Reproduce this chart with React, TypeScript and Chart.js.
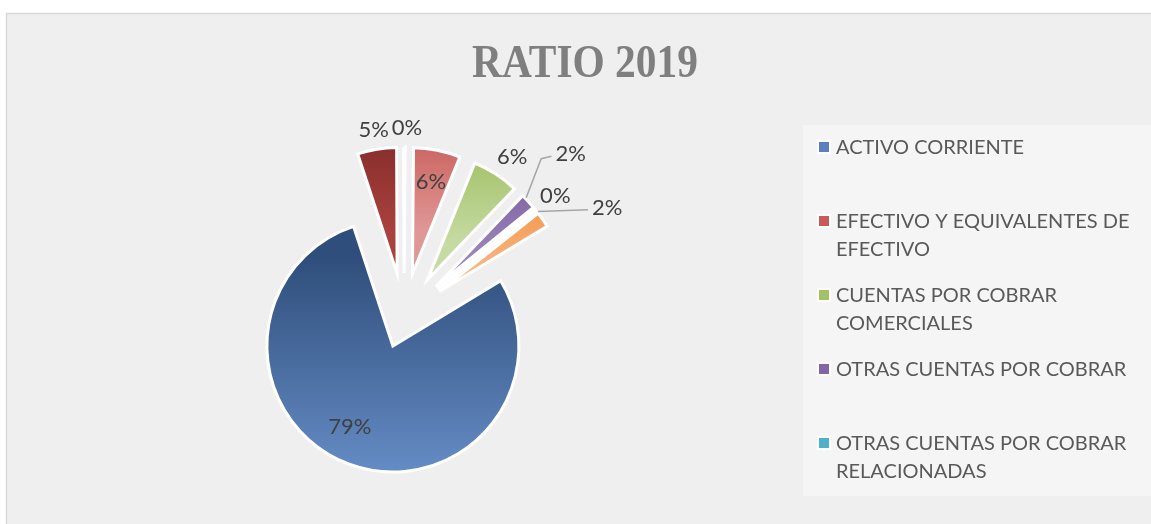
import React, { useEffect, useRef } from "react";
import { Chart, registerables } from "chart.js";

Chart.register(...registerables);

// ---------- data ----------
const chartTitle = "RATIO 2019";
// slices in drawing (clockwise) order
const categories = [
  "EFECTIVO Y EQUIVALENTES DE EFECTIVO",
  "CUENTAS POR COBRAR COMERCIALES",
  "OTRAS CUENTAS POR COBRAR",
  "OTRAS CUENTAS POR COBRAR RELACIONADAS",
  "SERVICIOS Y OTROS CONTRATADOS POR ANTICIPADO",
  "ACTIVO CORRIENTE",
  "OTROS ACTIVOS",
  "INVENTARIOS",
];
const values = [6.0, 6.0, 2.0, 0.2, 2.0, 78.6, 5.0, 0.2];
// legend shows these categories (indices into categories), in this order
const legendOrder = [5, 0, 1, 2, 3];

// ---------- styles ----------
const colorTop = ["#c24f4b", "#98b957", "#7a5c9e", "#4bacc6", "#f38f3f", "#2f4e7b", "#7a2624", "#1f497d"];
const colorBottom = ["#e09896", "#c6dba3", "#9c86ba", "#93cddd", "#f9b580", "#6c94cf", "#a9413e", "#4f81bd"];
const legendColor = ["#c85a58", "#a3c266", "#8466a6", "#4fb2c8", "#f79646", "#5a80bf", "#8c3432", "#35609a"];
const explodeDist = [43, 43, 43, 43, 43, 32, 43, 43];
const pieRadius = 126;
const pieRotation = 0.5;
// label placement: r = distance from slice vertex, da = angle tweak (deg)
const labelPlace: any[] = [
  { r: 95, da: 0 },
  { r: 150, da: 1.5 },
  { r: 190, da: -2, lead: { a: -1.8, r: 127, ea: -7.8, er: 166 } },
  { r: 151, da: 0 },
  { r: 188, da: 8, lead: { a: -4.3, r: 127 } },
  { r: 91, da: 8 },
  { r: 146, da: 0 },
  { r: 146, da: 1 },
];

const FONT = "Lato, 'Open Sans', sans-serif";

function sliceGeom(i: number, cx: number, cy: number) {
  const total = values.reduce((a, b) => a + b, 0);
  let cum = 0;
  for (let k = 0; k < i; k++) cum += values[k];
  const s = pieRotation + (cum / total) * 360;
  const e = s + (values[i] / total) * 360;
  const mid = ((s + e) / 2) * Math.PI / 180;
  const vx = cx + Math.sin(mid) * explodeDist[i];
  const vy = cy - Math.cos(mid) * explodeDist[i];
  const ys = [vy];
  const steps = 60;
  for (let t = 0; t <= steps; t++) {
    const a = (s + (e - s) * (t / steps)) * Math.PI / 180;
    ys.push(vy - Math.cos(a) * pieRadius);
  }
  return { top: Math.min(...ys), bottom: Math.max(...ys), vx };
}

const backgroundPlugin = {
  id: "bgFrame",
  beforeDraw(chart: any) {
    const ctx = chart.ctx;
    ctx.save();
    ctx.fillStyle = "#ffffff";
    ctx.fillRect(0, 0, chart.width, chart.height);
    ctx.fillStyle = "#efefef";
    ctx.fillRect(6, 13, chart.width - 6, chart.height - 13);
    ctx.strokeStyle = "#d9d9d9";
    ctx.lineWidth = 1.5;
    ctx.strokeRect(6.5, 13.5, chart.width + 5, chart.height + 5);
    // title
    ctx.fillStyle = "#7f7f7f";
    ctx.font = "bold 46px 'Liberation Serif', serif";
    ctx.textAlign = "center";
    ctx.textBaseline = "alphabetic";
    ctx.translate(585, 77);
    ctx.scale(0.9, 1);
    ctx.fillText(chartTitle, 0, 0);
    ctx.restore();
  },
};

const explodePlugin = {
  id: "explodeSlices",
  beforeDatasetDraw(chart: any, args: any) {
    const ctx = chart.ctx;
    const meta = args.meta;
    ctx.save();
    meta.data.forEach((el: any, i: number) => {
      const mid = (el.startAngle + el.endAngle) / 2;
      const d = explodeDist[i] || 0;
      ctx.save();
      ctx.translate(Math.cos(mid) * d, Math.sin(mid) * d);
      el.draw(ctx, chart.chartArea);
      ctx.restore();
    });
    ctx.restore();
    return false;
  },
};

const labelPlugin = {
  id: "pctLabels",
  afterDatasetsDraw(chart: any) {
    const ctx = chart.ctx;
    const meta = chart.getDatasetMeta(0);
    const total = values.reduce((a, b) => a + b, 0);
    ctx.save();
    ctx.font = `22px ${FONT}`;
    ctx.fillStyle = "#404040";
    ctx.textAlign = "center";
    ctx.textBaseline = "alphabetic";
    meta.data.forEach((el: any, i: number) => {
      const p = labelPlace[i];
      const mid = (el.startAngle + el.endAngle) / 2;
      const d = explodeDist[i] || 0;
      const vx = el.x + Math.cos(mid) * d;
      const vy = el.y + Math.sin(mid) * d;
      const la = mid + (p.da * Math.PI) / 180;
      const tx = vx + Math.cos(la) * p.r;
      const ty = vy + Math.sin(la) * p.r;
      const txt = Math.round((values[i] / total) * 100) + "%";
      if (p.lead) {
        const w = ctx.measureText(txt).width;
        const sa = mid + (p.lead.a * Math.PI) / 180;
        const sx = vx + Math.cos(sa) * p.lead.r;
        const sy = vy + Math.sin(sa) * p.lead.r;
        ctx.save();
        ctx.strokeStyle = "#a6a6a6";
        ctx.lineWidth = 1.5;
        ctx.beginPath();
        ctx.moveTo(sx, sy);
        if (p.lead.ea !== undefined) {
          const ea = mid + (p.lead.ea * Math.PI) / 180;
          ctx.lineTo(vx + Math.cos(ea) * p.lead.er, vy + Math.sin(ea) * p.lead.er);
        }
        ctx.lineTo(tx - w / 2 - 4, ty + 3);
        ctx.stroke();
        ctx.restore();
      }
      ctx.fillText(txt, tx, ty + 8);
    });
    ctx.restore();
  },
};

function wrapText(ctx: CanvasRenderingContext2D, text: string, maxW: number) {
  const words = text.split(" ");
  const lines: string[] = [];
  let cur = "";
  for (const w of words) {
    const test = cur ? cur + " " + w : w;
    if (cur && ctx.measureText(test).width > maxW) {
      lines.push(cur);
      cur = w;
    } else cur = test;
  }
  if (cur) lines.push(cur);
  return lines;
}

const legendPlugin = {
  id: "sideLegend",
  afterDraw(chart: any) {
    const ctx = chart.ctx;
    ctx.save();
    ctx.fillStyle = "#f5f5f5";
    ctx.fillRect(803, 125, chart.width - 803, 371);
    ctx.font = `20px ${FONT}`;
    ctx.textAlign = "left";
    ctx.textBaseline = "alphabetic";
    legendOrder.forEach((ci, k) => {
      const y0 = 147 + k * 74;
      ctx.fillStyle = "#ffffff";
      ctx.fillRect(817, y0 - 7, 14, 14);
      ctx.fillStyle = legendColor[ci];
      ctx.fillRect(819, y0 - 5, 10, 10);
      ctx.fillStyle = "#595959";
      const lines = wrapText(ctx, categories[ci], 302);
      lines.forEach((ln, j) => ctx.fillText(ln, 836, y0 + 7 + j * 28));
    });
    ctx.restore();
  },
};

export default function App() {
  const ref = useRef<HTMLCanvasElement | null>(null);
  useEffect(() => {
    if (!ref.current) return;
    const chart = new Chart(ref.current, {
      type: "pie",
      data: {
        labels: categories,
        datasets: [
          {
            data: values,
            radius: pieRadius,
            rotation: pieRotation,
            borderColor: "#ffffff",
            borderWidth: 3,
            borderJoinStyle: "miter",
            backgroundColor: (c: any) => {
              const i = c.dataIndex;
              const area = c.chart.chartArea;
              if (!area) return colorTop[i];
              const cx = (area.left + area.right) / 2;
              const cy = (area.top + area.bottom) / 2;
              const g = sliceGeom(i, cx, cy);
              const grad = c.chart.ctx.createLinearGradient(0, g.top, 0, g.bottom);
              grad.addColorStop(0, colorTop[i]);
              grad.addColorStop(1, colorBottom[i]);
              return grad;
            },
          } as any,
        ],
      },
      options: {
        responsive: false,
        maintainAspectRatio: false,
        animation: false,
        radius: pieRadius,
        rotation: pieRotation,
        layout: { padding: { left: 250, right: 593, top: 160, bottom: 52 } },
        plugins: {
          legend: { display: false },
          title: { display: false },
          tooltip: { enabled: false },
        },
        events: [],
      } as any,
      plugins: [backgroundPlugin, explodePlugin, labelPlugin, legendPlugin],
    });
    return () => chart.destroy();
  }, []);
  return (
    <div style={{ position: "fixed", left: 0, top: 0, width: 1151, height: 524 }}>
      <canvas ref={ref} width={1151} height={524} style={{ display: "block" }} />
    </div>
  );
}
